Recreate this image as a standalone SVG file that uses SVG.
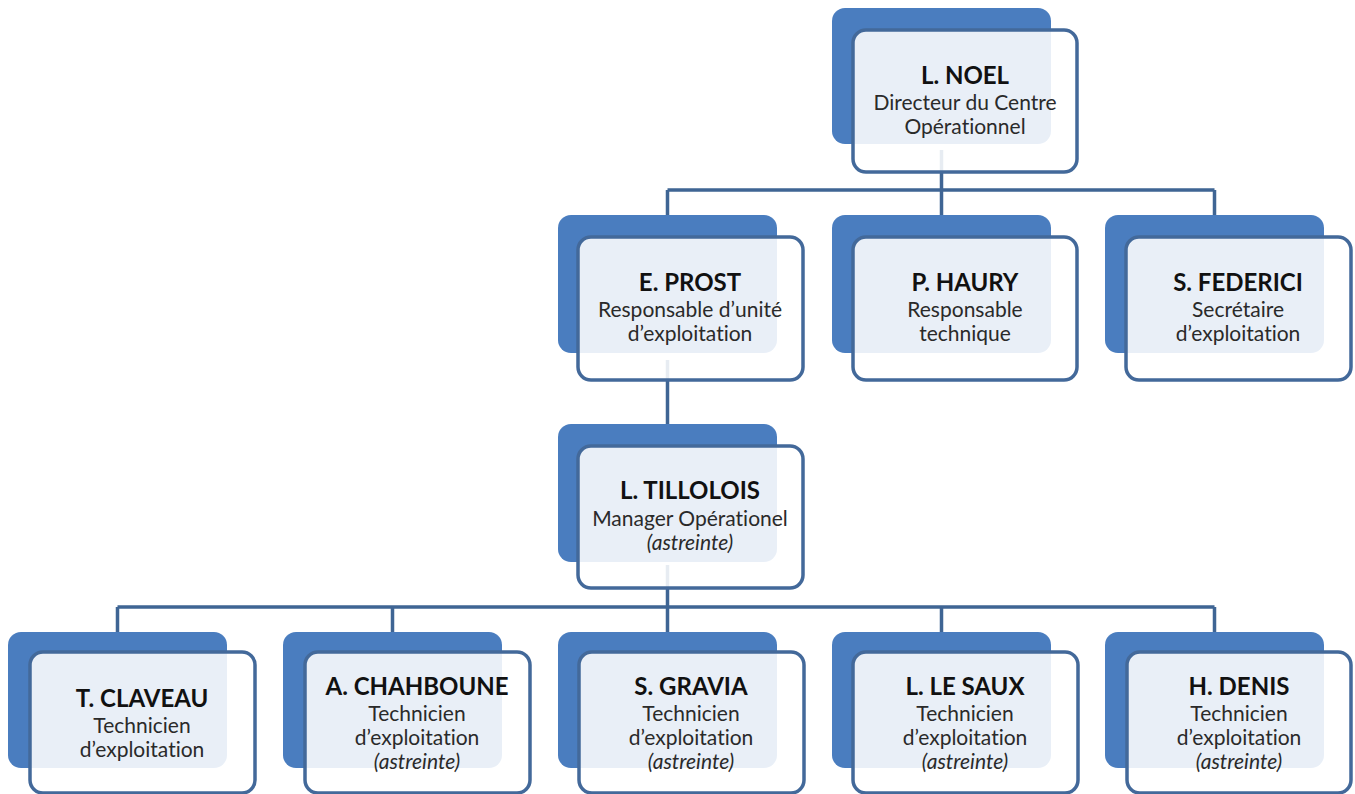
<svg xmlns="http://www.w3.org/2000/svg" width="1355" height="794" viewBox="0 0 1355 794">
<style>
.back{fill:#4a7dbf}
.front{fill:#ffffff;fill-opacity:0.88;stroke:#43699a;stroke-width:3.5}
.conn{stroke:#3f6594;stroke-width:3.5;fill:none}
text{font-family:Lato,"Liberation Sans",sans-serif;text-anchor:middle;fill:#1e1e1e;font-variant-ligatures:none}
.name{font-weight:bold;font-size:24px;fill:#111}
.sub{font-size:21px;fill:#2a2a2a}
.it{font-style:italic}
</style>
<rect width="1355" height="794" fill="#ffffff"/>
<g id="connectors">
<path class="conn" d="M941.5 150 V190 M667.5 190 H1214.5 M667.5 190 V230 M941.5 190 V230 M1214.5 190 V230"/>
<path class="conn" d="M667.5 360 V440"/>
<path class="conn" d="M667.5 565 V607 M117.5 607 H1214.5 M117.5 607 V645 M392.5 607 V645 M667.5 607 V645 M941.5 607 V645 M1214.5 607 V645"/>
</g>
<g id="noel">
<rect class="back" x="832" y="8" width="219" height="136" rx="13"/>
<rect class="front" x="853" y="30" width="224" height="142" rx="13"/>
<text class="name" x="965" y="84">L. NOEL</text>
<text class="sub" x="965" y="110">Directeur du Centre</text>
<text class="sub" x="965" y="134">Opérationnel</text>
</g>
<g id="prost">
<rect class="back" x="558" y="215" width="219" height="138" rx="13"/>
<rect class="front" x="578" y="237" width="225" height="143" rx="13"/>
<text class="name" x="690" y="291">E. PROST</text>
<text class="sub" x="690" y="317">Responsable d’unité</text>
<text class="sub" x="690" y="341">d’exploitation</text>
</g>
<g id="haury">
<rect class="back" x="832" y="215" width="219" height="138" rx="13"/>
<rect class="front" x="853" y="237" width="224" height="143" rx="13"/>
<text class="name" x="965" y="291">P. HAURY</text>
<text class="sub" x="965" y="317">Responsable</text>
<text class="sub" x="965" y="341">technique</text>
</g>
<g id="federici">
<rect class="back" x="1105" y="215" width="219" height="138" rx="13"/>
<rect class="front" x="1126" y="237" width="225" height="143" rx="13"/>
<text class="name" x="1238" y="291">S. FEDERICI</text>
<text class="sub" x="1238" y="317">Secrétaire</text>
<text class="sub" x="1238" y="341">d’exploitation</text>
</g>
<g id="tillolois">
<rect class="back" x="558" y="424" width="219" height="138" rx="13"/>
<rect class="front" x="578" y="446" width="225" height="142" rx="13"/>
<text class="name" x="690" y="499">L. TILLOLOIS</text>
<text class="sub" x="690" y="526">Manager Opérationel</text>
<text class="sub it" x="690" y="550">(astreinte)</text>
</g>
<g id="claveau">
<rect class="back" x="8" y="632" width="219" height="136" rx="13"/>
<rect class="front" x="30" y="652" width="225" height="141" rx="13"/>
<text class="name" x="142" y="707">T. CLAVEAU</text>
<text class="sub" x="142" y="733">Technicien</text>
<text class="sub" x="142" y="757">d’exploitation</text>
</g>
<g id="chahboune">
<rect class="back" x="283" y="632" width="219" height="136" rx="13"/>
<rect class="front" x="305" y="652" width="225" height="141" rx="13"/>
<text class="name" x="417" y="695">A. CHAHBOUNE</text>
<text class="sub" x="417" y="721">Technicien</text>
<text class="sub" x="417" y="745">d’exploitation</text>
<text class="sub it" x="417" y="769">(astreinte)</text>
</g>
<g id="gravia">
<rect class="back" x="558" y="632" width="219" height="136" rx="13"/>
<rect class="front" x="579" y="652" width="225" height="141" rx="13"/>
<text class="name" x="691" y="695">S. GRAVIA</text>
<text class="sub" x="691" y="721">Technicien</text>
<text class="sub" x="691" y="745">d’exploitation</text>
<text class="sub it" x="691" y="769">(astreinte)</text>
</g>
<g id="lesaux">
<rect class="back" x="832" y="632" width="219" height="136" rx="13"/>
<rect class="front" x="853" y="652" width="225" height="141" rx="13"/>
<text class="name" x="965" y="695">L. LE SAUX</text>
<text class="sub" x="965" y="721">Technicien</text>
<text class="sub" x="965" y="745">d’exploitation</text>
<text class="sub it" x="965" y="769">(astreinte)</text>
</g>
<g id="denis">
<rect class="back" x="1105" y="632" width="219" height="136" rx="13"/>
<rect class="front" x="1127" y="652" width="224" height="141" rx="13"/>
<text class="name" x="1239" y="695">H. DENIS</text>
<text class="sub" x="1239" y="721">Technicien</text>
<text class="sub" x="1239" y="745">d’exploitation</text>
<text class="sub it" x="1239" y="769">(astreinte)</text>
</g>
</svg>
